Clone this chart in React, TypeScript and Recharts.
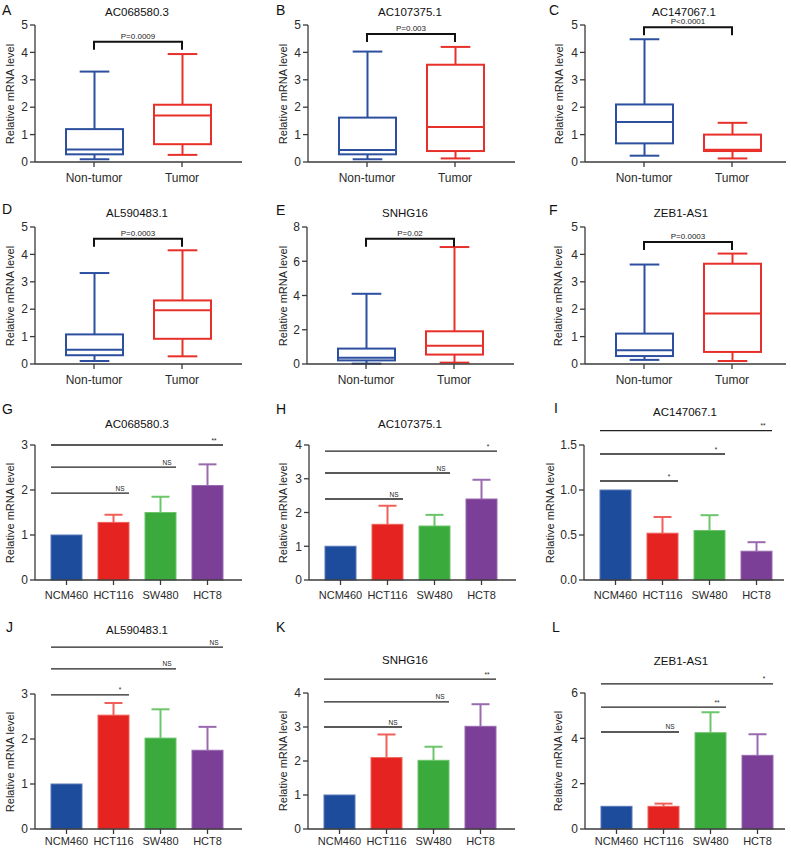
import React from 'react';
import { ComposedChart, Bar, XAxis, YAxis, ReferenceLine } from 'recharts';

const FONT = '"Liberation Sans", Arial, Helvetica, sans-serif';
const AXIS = '#3a3a3a';
const TOP_MARGIN = 60;

// ---- box plots (tissue): [min, q1, median, q3, max]
const BOX_GROUPS = ['Non-tumor', 'Tumor'];
const BOX_COLORS = ['#2D4F9F', '#E8302A'];

const A_NONTUMOR = [0.1, 0.28, 0.46, 1.2, 3.3];
const A_TUMOR = [0.26, 0.65, 1.7, 2.09, 3.94];
const B_NONTUMOR = [0.1, 0.28, 0.44, 1.62, 4.03];
const B_TUMOR = [0.13, 0.4, 1.28, 3.55, 4.2];
const C_NONTUMOR = [0.23, 0.68, 1.46, 2.1, 4.48];
const C_TUMOR = [0.13, 0.4, 0.45, 1.0, 1.43];
const D_NONTUMOR = [0.11, 0.32, 0.52, 1.08, 3.32];
const D_TUMOR = [0.28, 0.92, 1.96, 2.32, 4.15];
const E_NONTUMOR = [0.02, 0.21, 0.37, 0.9, 4.1];
const E_TUMOR = [0.08, 0.55, 1.07, 1.91, 6.83];
const F_NONTUMOR = [0.15, 0.29, 0.5, 1.11, 3.63];
const F_TUMOR = [0.11, 0.44, 1.84, 3.66, 4.03];

const BRACKET_Y = [4.39, 4.67, 4.92, 4.57, 7.31, 4.45];
const P_VALUES = ['P=0.0009', 'P=0.003', 'P<0.0001', 'P=0.0003', 'P=0.02', 'P=0.0003'];

// ---- bar charts (cell lines)
const CELL_LINES = ['NCM460', 'HCT116', 'SW480', 'HCT8'];
const BAR_FILLS = ['#1E4C9C', '#E52421', '#3AAA3C', '#7B3F97'];
const BAR_EDGES = ['#5676B8', '#F0605A', '#6CC46B', '#9A6AB0'];
const SIG_TARGETS = ['HCT116', 'SW480', 'HCT8'];

const G_MEAN = [1, 1.28, 1.5, 2.1];
const G_ERR = [null, 1.45, 1.85, 2.57];
const G_SIG_Y = [1.93, 2.51, 3.0];
const G_SIG = ['NS', 'NS', '**'];

const H_MEAN = [1, 1.65, 1.6, 2.4];
const H_ERR = [null, 2.2, 1.93, 2.97];
const H_SIG_Y = [2.4, 3.17, 3.82];
const H_SIG = ['NS', 'NS', '*'];

const I_MEAN = [1, 0.52, 0.55, 0.32];
const I_ERR = [null, 0.7, 0.72, 0.42];
const I_SIG_Y = [1.1, 1.4, 1.66];
const I_SIG = ['*', '*', '**'];

const J_MEAN = [1, 2.53, 2.02, 1.75];
const J_ERR = [null, 2.8, 2.66, 2.27];
const J_SIG_Y = [2.98, 3.56, 4.04];
const J_SIG = ['*', 'NS', 'NS'];

const K_MEAN = [1, 2.1, 2.02, 3.02];
const K_ERR = [null, 2.78, 2.42, 3.67];
const K_SIG_Y = [3.0, 3.74, 4.41];
const K_SIG = ['NS', 'NS', '**'];

const L_MEAN = [1, 1.0, 4.25, 3.25];
const L_ERR = [null, 1.12, 5.15, 4.18];
const L_SIG_Y = [4.28, 5.38, 6.4];
const L_SIG = ['NS', '**', '*'];

const TICKS_5 = [0, 1, 2, 3, 4, 5];
const TICKS_8 = [0, 2, 4, 6, 8];
const TICKS_3 = [0, 1, 2, 3];
const TICKS_4 = [0, 1, 2, 3, 4];
const TICKS_15 = [0, 0.5, 1, 1.5];
const TICKS_6 = [0, 2, 4, 6];

const BOX_PANELS = [
  { letter: 'A', title: 'AC068580.3', nt: A_NONTUMOR, t: A_TUMOR, yMax: 5, ticks: TICKS_5, ax: 35, top: 25, w: 207, h: 137, lx: 2, ly: 10, tx: 137, ty: 12, yl: 10 },
  { letter: 'B', title: 'AC107375.1', nt: B_NONTUMOR, t: B_TUMOR, yMax: 5, ticks: TICKS_5, ax: 308, top: 25, w: 207, h: 137, lx: 276, ly: 10, tx: 410, ty: 12, yl: 283 },
  { letter: 'C', title: 'AC147067.1', nt: C_NONTUMOR, t: C_TUMOR, yMax: 5, ticks: TICKS_5, ax: 585, top: 25, w: 201, h: 137, lx: 549, ly: 10, tx: 684, ty: 12, yl: 559 },
  { letter: 'D', title: 'AL590483.1', nt: D_NONTUMOR, t: D_TUMOR, yMax: 5, ticks: TICKS_5, ax: 35, top: 227, w: 207, h: 137, lx: 2, ly: 209, tx: 137, ty: 213, yl: 10 },
  { letter: 'E', title: 'SNHG16', nt: E_NONTUMOR, t: E_TUMOR, yMax: 8, ticks: TICKS_8, ax: 307, top: 227, w: 207, h: 137, lx: 276, ly: 210, tx: 405, ty: 213, yl: 283 },
  { letter: 'F', title: 'ZEB1-AS1', nt: F_NONTUMOR, t: F_TUMOR, yMax: 5, ticks: TICKS_5, ax: 585, top: 227, w: 201, h: 137, lx: 549, ly: 210, tx: 681, ty: 213, yl: 558 },
];

const BAR_PANELS = [
  { letter: 'G', title: 'AC068580.3', mean: G_MEAN, err: G_ERR, sigY: G_SIG_Y, sig: G_SIG, yMax: 3, ticks: TICKS_3, ax: 35, top: 445, w: 207, h: 135, lx: 2, ly: 409, tx: 137, ty: 424, yl: 10, tm: 6 },
  { letter: 'H', title: 'AC107375.1', mean: H_MEAN, err: H_ERR, sigY: H_SIG_Y, sig: H_SIG, yMax: 4, ticks: TICKS_4, ax: 309, top: 445, w: 207, h: 135, lx: 276, ly: 409, tx: 410, ty: 424, yl: 283, tm: 6 },
  { letter: 'I', title: 'AC147067.1', mean: I_MEAN, err: I_ERR, sigY: I_SIG_Y, sig: I_SIG, yMax: 1.5, ticks: TICKS_15, ax: 584, top: 445, w: 200, h: 135, lx: 554, ly: 408, tx: 685, ty: 412, yl: 550, tm: 6, fixed: true },
  { letter: 'J', title: 'AL590483.1', mean: J_MEAN, err: J_ERR, sigY: J_SIG_Y, sig: J_SIG, yMax: 3, ticks: TICKS_3, ax: 35, top: 694, w: 207, h: 135, lx: 6, ly: 627, tx: 137, ty: 630, yl: 10, tm: 3 },
  { letter: 'K', title: 'SNHG16', mean: K_MEAN, err: K_ERR, sigY: K_SIG_Y, sig: K_SIG, yMax: 4, ticks: TICKS_4, ax: 308, top: 693, w: 207, h: 136, lx: 276, ly: 627, tx: 405, ty: 660, yl: 283, tm: 3 },
  { letter: 'L', title: 'ZEB1-AS1', mean: L_MEAN, err: L_ERR, sigY: L_SIG_Y, sig: L_SIG, yMax: 6, ticks: TICKS_6, ax: 585, top: 693, w: 200, h: 136, lx: 552, ly: 627, tx: 681, ty: 661, yl: 558, tm: 3 },
];

const BOX_SIZE = 57;
const BAR_SIZE = 31;

function BoxShape(props: any) {
  const { x, y, width, height, payload } = props;
  const [mn, q1, med, q3, mx] = payload.stats;
  const py = (v: number) => y + ((mx - v) / (mx - mn)) * height;
  const cx = x + width / 2;
  const cap = width * 0.26;
  return (
    <g stroke={payload.color} strokeWidth={2} fill="none">
      <line x1={cx} x2={cx} y1={py(mx)} y2={py(q3)} />
      <line x1={cx} x2={cx} y1={py(q1)} y2={py(mn)} />
      <line x1={cx - cap} x2={cx + cap} y1={py(mx)} y2={py(mx)} />
      <line x1={cx - cap} x2={cx + cap} y1={py(mn)} y2={py(mn)} />
      <rect x={x} y={py(q3)} width={width} height={py(q1) - py(q3)} />
      <line x1={x} x2={x + width} y1={py(med)} y2={py(med)} />
    </g>
  );
}

function BarShape(props: any) {
  const { x, y, width, height, payload } = props;
  const cx = x + width / 2;
  const py = (v: number) => y + height - (v / payload.mean) * height;
  return (
    <g>
      <rect x={x} y={y} width={width} height={height} fill={payload.fill} stroke={payload.edge} strokeWidth={1} />
      {payload.err != null && (
        <g stroke={payload.edge} strokeWidth={2}>
          <line x1={cx} x2={cx} y1={y} y2={py(payload.err)} />
          <line x1={cx - 9} x2={cx + 9} y1={py(payload.err)} y2={py(payload.err)} />
        </g>
      )}
    </g>
  );
}

function Bracket(props: any) {
  const { x1, x2, y1, text } = props;
  return (
    <g>
      <path d={`M${x1},${y1 + 8}V${y1}H${x2}V${y1 + 8}`} fill="none" stroke="#111" strokeWidth={2} />
      <text x={(x1 + x2) / 2} y={y1 - 3} textAnchor="middle" fontSize={8} fill="#222" fontFamily={FONT}>
        {text}
      </text>
    </g>
  );
}

function SigLine(props: any) {
  const { x1, x2, y1, text } = props;
  const left = x1 - BAR_SIZE / 2;
  const right = x2 + BAR_SIZE / 2;
  return (
    <g>
      <line x1={left} x2={right} y1={y1} y2={y1} stroke="#222" strokeWidth={1.3} />
      <text x={right - 9} y={y1 - 2.5} textAnchor="middle" fontSize={6.5} fill="#222" fontFamily={FONT}>
        {text}
      </text>
    </g>
  );
}

const tickStyle = { fontSize: 12, fill: '#2a2a2a', fontFamily: FONT };
const barTickStyle = { fontSize: 11, fill: '#2a2a2a', fontFamily: FONT };
const lineStyle = { stroke: AXIS, strokeWidth: 1.3 };

function Labels({ p }: { p: any }) {
  return (
    <>
      <div style={{ position: 'absolute', left: p.lx, top: p.ly - 7, fontSize: 14, lineHeight: '14px', color: '#111' }}>{p.letter}</div>
      <div style={{ position: 'absolute', left: p.tx - 80, top: p.ty - 6, width: 160, textAlign: 'center', fontSize: 11.5, lineHeight: '12px', color: '#111' }}>{p.title}</div>
      <div
        style={{
          position: 'absolute', left: p.yl - 80, top: p.top + p.h / 2 - 6, width: 160, height: 12,
          textAlign: 'center', fontSize: 11, lineHeight: '12px', color: '#222', transform: 'rotate(-90deg)',
        }}
      >
        Relative mRNA level
      </div>
    </>
  );
}

function BoxPanel({ p, idx }: { p: any; idx: number }) {
  const data = BOX_GROUPS.map((name, i) => {
    const s = i === 0 ? p.nt : p.t;
    return { name, range: [s[0], s[4]], stats: s, color: BOX_COLORS[i] };
  });
  const width = 35 + p.w + 6;
  return (
    <div style={{ position: 'absolute', left: p.ax - 35, top: p.top - TOP_MARGIN }}>
      <ComposedChart width={width} height={p.h + TOP_MARGIN + 30} data={data} margin={{ top: TOP_MARGIN, right: 6, bottom: 0, left: 5 }}>
        <XAxis dataKey="name" type="category" interval={0} padding={{ left: 15, right: p.w - 191 }} tick={tickStyle} tickSize={5} tickMargin={6} axisLine={lineStyle} tickLine={lineStyle} height={30} />
        <YAxis type="number" domain={[0, p.yMax]} ticks={p.ticks} interval={0} width={30} tick={tickStyle} tickSize={5} axisLine={lineStyle} tickLine={lineStyle} />
        <Bar dataKey="range" barSize={BOX_SIZE} shape={BoxShape} isAnimationActive={false} />
        <ReferenceLine
          segment={[{ x: BOX_GROUPS[0], y: BRACKET_Y[idx] }, { x: BOX_GROUPS[1], y: BRACKET_Y[idx] }]}
          ifOverflow="visible"
          shape={(lp: any) => <Bracket {...lp} text={P_VALUES[idx]} />}
        />
      </ComposedChart>
    </div>
  );
}

function BarPanel({ p }: { p: any }) {
  const data = CELL_LINES.map((name, i) => ({
    name, mean: p.mean[i], err: p.err[i], fill: BAR_FILLS[i], edge: BAR_EDGES[i],
  }));
  const width = 35 + p.w + 6;
  return (
    <div style={{ position: 'absolute', left: p.ax - 35, top: p.top - TOP_MARGIN }}>
      <ComposedChart width={width} height={p.h + TOP_MARGIN + 30} data={data} margin={{ top: TOP_MARGIN, right: 6, bottom: 0, left: 5 }}>
        <XAxis dataKey="name" type="category" interval={0} padding={{ left: 8, right: p.w - 196 }} tick={barTickStyle} tickSize={5} tickMargin={p.tm} axisLine={lineStyle} tickLine={lineStyle} height={30} />
        <YAxis
          type="number" domain={[0, p.yMax]} ticks={p.ticks} interval={0} width={30} tick={tickStyle} tickSize={5}
          axisLine={lineStyle} tickLine={lineStyle}
          tickFormatter={(v: number) => (p.fixed ? v.toFixed(1) : String(v))}
        />
        <Bar dataKey="mean" barSize={BAR_SIZE} shape={BarShape} isAnimationActive={false} />
        {p.sigY.map((v: number, i: number) => (
          <ReferenceLine
            key={i}
            segment={[{ x: CELL_LINES[0], y: v }, { x: SIG_TARGETS[i], y: v }]}
            ifOverflow="visible"
            shape={(lp: any) => <SigLine {...lp} text={p.sig[i]} />}
          />
        ))}
      </ComposedChart>
    </div>
  );
}

export default function App() {
  return (
    <div style={{ position: 'absolute', left: 0, top: 0, width: 791, height: 848, overflow: 'hidden', background: '#fff', fontFamily: FONT }}>
      {BOX_PANELS.map((p, i) => (
        <BoxPanel key={p.letter} p={p} idx={i} />
      ))}
      {BAR_PANELS.map((p) => (
        <BarPanel key={p.letter} p={p} />
      ))}
      {[...BOX_PANELS, ...BAR_PANELS].map((p) => (
        <Labels key={'l' + p.letter} p={p} />
      ))}
    </div>
  );
}
